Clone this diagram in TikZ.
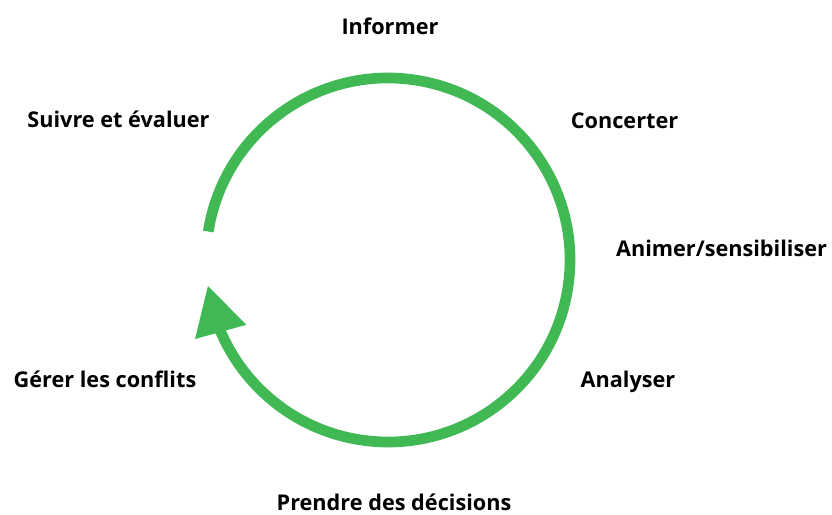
\documentclass[tikz,border=0pt]{standalone}
\usepackage{fontspec}
\setmainfont{Open Sans}
\usetikzlibrary{arrows.meta, bending}
\definecolor{cyclegreen}{RGB}{64,184,84}

\begin{document}
\begin{tikzpicture}[x=0.03cm, y=0.03cm,
    etape/.style={anchor=base, inner sep=0pt, font=\fontsize{18.5}{22}\selectfont\bfseries}]
    \useasboundingbox (0,0) rectangle (832,515);

    \coordinate (centre) at (388,255);
    \draw[cyclegreen, line width=0.32cm, -{Triangle[length=1.45cm, width=1.5cm, flex]}]
        (centre) ++(171:182) arc[start angle=171, end angle=-172, radius=182];

    \node[etape] (informer) at (390,480) {Informer};
    \node[etape] (concerter) at (624.5,386) {Concerter};
    \node[etape] (animer) at (721.5,258) {Animer/sensibiliser};
    \node[etape] (analyser) at (628,127) {Analyser};
    \node[etape] (decider) at (394,4) {Prendre des décisions};
    \node[etape] (conflits) at (105,127) {Gérer les conflits};
    \node[etape] (suivre) at (118.5,387) {Suivre et évaluer};
\end{tikzpicture}
\end{document}
